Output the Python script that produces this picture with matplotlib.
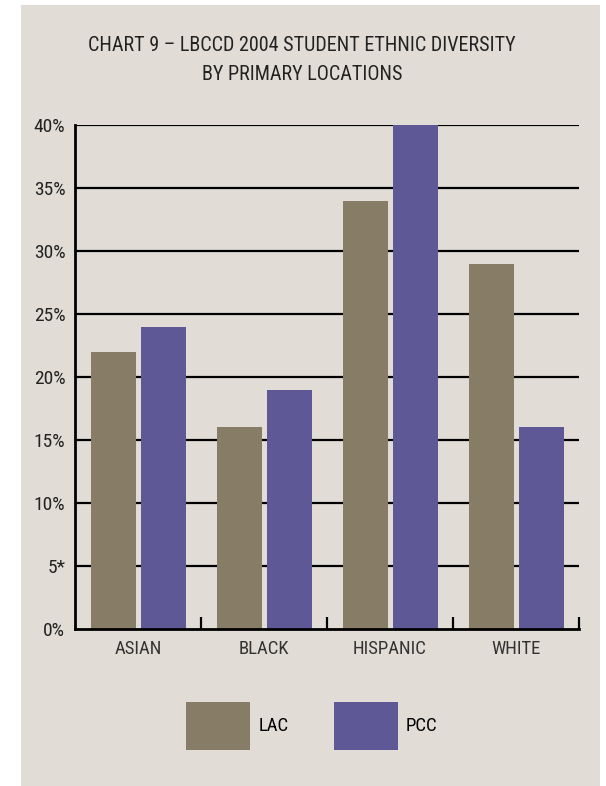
import matplotlib
matplotlib.use('Agg')
import matplotlib.pyplot as plt
import numpy as np
from matplotlib.patches import Rectangle

# chart data
categories = ['ASIAN', 'BLACK', 'HISPANIC', 'WHITE']
lac = [22, 16, 34, 29]
pcc = [24, 19, 40, 16]
series_names = ['LAC', 'PCC']
y_ticks = [0, 5, 10, 15, 20, 25, 30, 35, 40]
y_tick_labels = ['0%', '5*', '10%', '15%', '20%', '25%', '30%', '35%', '40%']
title = 'CHART 9 \u2013 LBCCD 2004 STUDENT ETHNIC DIVERSITY\nBY PRIMARY LOCATIONS'

# colors
bg = '#e1ddd6'
lac_color = '#877c66'
pcc_color = '#5e5896'

plt.rcParams['font.family'] = ['Liberation Sans Narrow', 'Roboto Condensed', 'DejaVu Sans']
plt.rcParams['font.stretch'] = 'condensed'

W, H = 606, 786
fig = plt.figure(figsize=(W / 100, H / 100), dpi=100)
fig.patch.set_facecolor('white')
# beige panel
fig.patches.append(Rectangle((21 / W, 0), 579 / W, 1 - 5 / H, transform=fig.transFigure,
                             facecolor=bg, edgecolor='none', zorder=-1))

ax = fig.add_axes([75 / W, 1 - 629 / H, 504 / W, 504 / H])
ax.set_facecolor('none')
ax.set_zorder(2)

x = np.arange(len(categories)) + 0.5
w = 0.357
ax.bar(x - 0.197, lac, width=w, color=lac_color, label=series_names[0], zorder=3)
ax.bar(x + 0.200, pcc, width=w, color=pcc_color, label=series_names[1], zorder=3)

# horizontal grid lines
for t in y_ticks[1:]:
    ax.axhline(t, color='black', linewidth=1.6, zorder=1)

ax.set_xlim(0, len(categories))
ax.set_ylim(0, 40)

ax.set_yticks(y_ticks)
ax.set_yticklabels(y_tick_labels, fontsize=14)
ax.tick_params(axis='y', length=0, pad=7, colors='#222222')

# ticks at category boundaries, pointing up
ax.set_xticks(np.arange(1, len(categories) + 1))
ax.set_xticklabels([])
ax.tick_params(axis='x', direction='in', length=9, width=1.6, color='black')
ax.set_xticks(x, minor=True)
ax.set_xticklabels(categories, minor=True, fontsize=13.5, color='#333333')
ax.tick_params(axis='x', which='minor', length=0, pad=8)

for s in ['top', 'right']:
    ax.spines[s].set_visible(False)
for s in ['left', 'bottom']:
    ax.spines[s].set_linewidth(2)
    ax.spines[s].set_zorder(4)

fig.text(302 / W, 1 - 60 / H, title, ha='center', va='center', fontsize=14.5,
         color='#222222', linespacing=1.65)

fig.legend(loc='center', bbox_to_anchor=(312 / W, 1 - 726 / H), ncol=2, frameon=False,
           fontsize=13.5, handlelength=3.4, handleheight=3.6, handletextpad=0.45,
           columnspacing=2.4, borderpad=0)

fig.savefig('out.png', dpi=100, facecolor='white')
